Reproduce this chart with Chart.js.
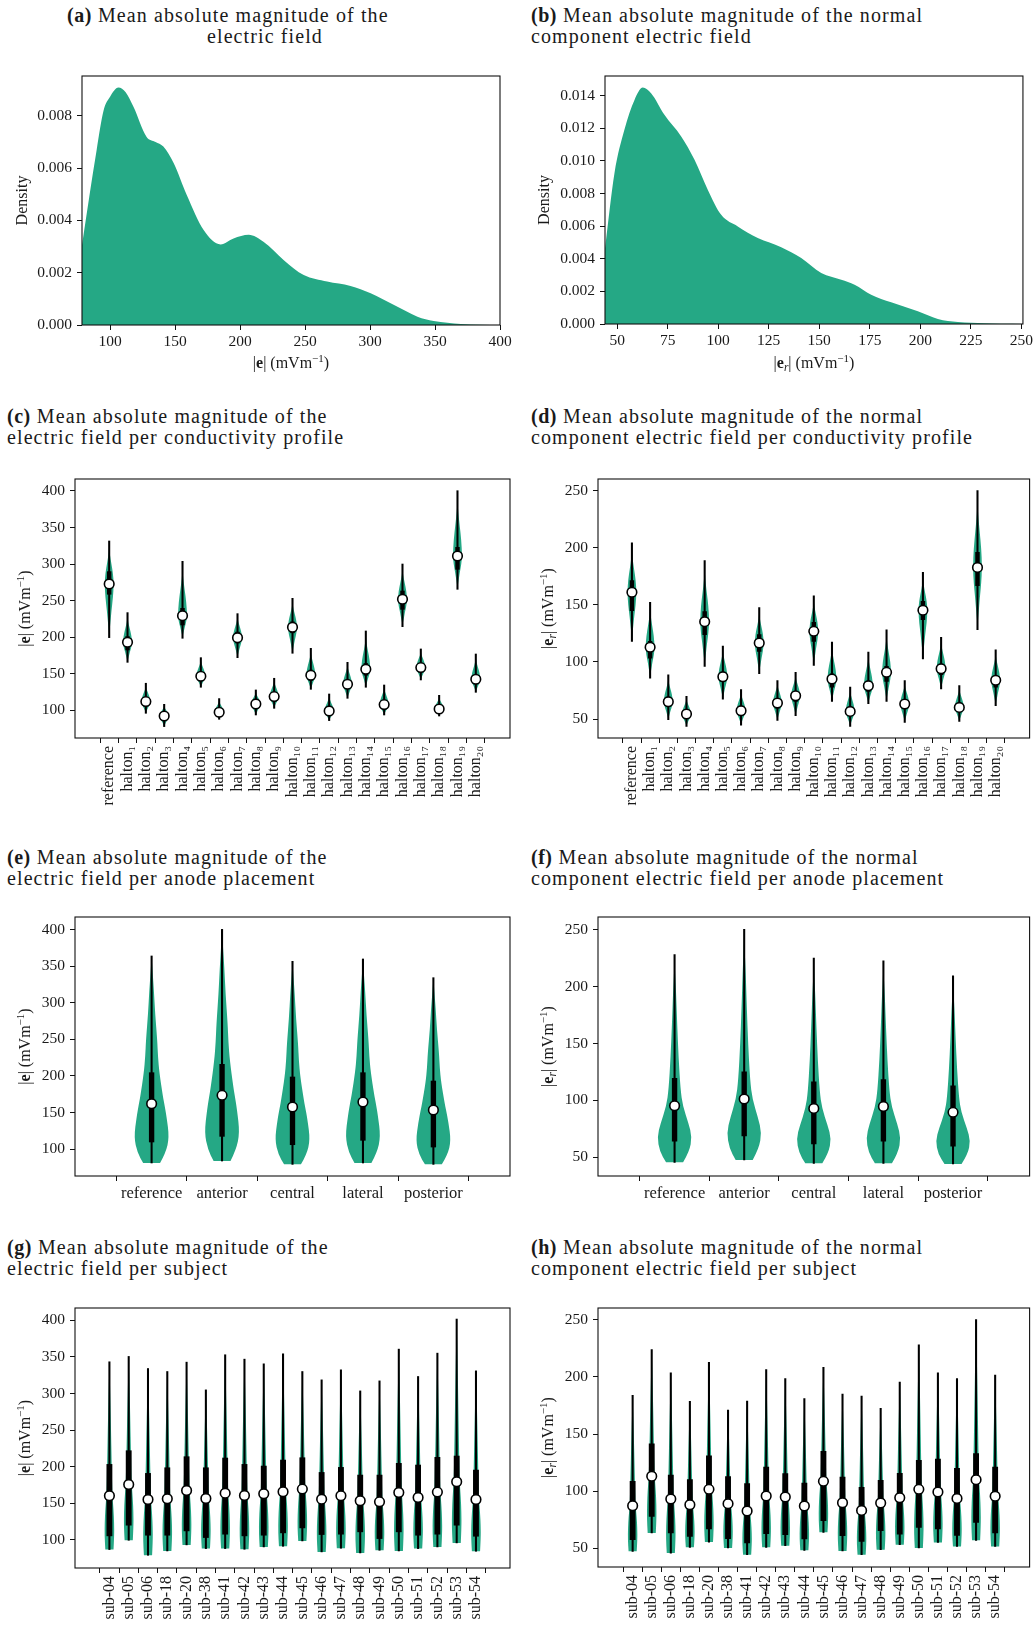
<!DOCTYPE html>
<html>
<head>
<meta charset="utf-8">
<title>Electric field magnitude</title>
<script src="https://cdn.jsdelivr.net/npm/chart.js@4.4.1/dist/chart.umd.min.js"></script>
<style>
  body { margin: 0; background: #fff; }
  #page { position: relative; width: 1036px; height: 1627px; overflow: hidden; }
  canvas { position: absolute; }
  .cap {
    position: absolute;
    font-family: "Liberation Serif", serif;
    font-size: 20px;
    letter-spacing: 1.1px;
    line-height: 20.6px;
    color: #1a1a1a;
    white-space: nowrap;
  }
  .cap b { letter-spacing: 0.5px; }
</style>
</head>
<body>
<div id="page">
  <div class="cap" style="left:67px;top:5.4px"><b>(a)</b> Mean absolute magnitude of the</div>
  <div class="cap" style="left:207px;top:26px">electric field</div>
  <div class="cap" style="left:531px;top:5.4px"><b>(b)</b> Mean absolute magnitude of the normal<br>component electric field</div>

  <div class="cap" style="left:7px;top:406.4px"><b>(c)</b> Mean absolute magnitude of the<br>electric field per conductivity profile</div>
  <div class="cap" style="left:531px;top:406.4px"><b>(d)</b> Mean absolute magnitude of the normal<br>component electric field per conductivity profile</div>

  <div class="cap" style="left:7px;top:847px"><b>(e)</b> Mean absolute magnitude of the<br>electric field per anode placement</div>
  <div class="cap" style="left:531px;top:847px"><b>(f)</b> Mean absolute magnitude of the normal<br>component electric field per anode placement</div>

  <div class="cap" style="left:7px;top:1237px"><b>(g)</b> Mean absolute magnitude of the<br>electric field per subject</div>
  <div class="cap" style="left:531px;top:1237px"><b>(h)</b> Mean absolute magnitude of the normal<br>component electric field per subject</div>

  <canvas id="chartA" width="518" height="330" style="left:0;top:50px"></canvas>
  <canvas id="chartB" width="518" height="330" style="left:518px;top:50px"></canvas>
  <canvas id="chartC" width="518" height="360" style="left:0;top:460px"></canvas>
  <canvas id="chartD" width="518" height="360" style="left:518px;top:460px"></canvas>
  <canvas id="chartE" width="518" height="310" style="left:0;top:900px"></canvas>
  <canvas id="chartF" width="518" height="310" style="left:518px;top:900px"></canvas>
  <canvas id="chartG" width="518" height="337" style="left:0;top:1290px"></canvas>
  <canvas id="chartH" width="518" height="337" style="left:518px;top:1290px"></canvas>
</div>

<script>
// ---- data ----

// (a) density of |e|
const densEx = [78.4, 84, 89.7, 95, 100, 106.4, 112, 118, 128, 135, 141, 149, 159, 172, 185, 195, 206.7, 218, 233.7, 249, 267, 285, 300.5, 318.5, 336.5, 349, 370, 385, 400];
const densEy = [0.00306, 0.0049, 0.0067, 0.0082, 0.00873, 0.00908, 0.0089, 0.00834, 0.0072, 0.0070, 0.00682, 0.00618, 0.00497, 0.00363, 0.00308, 0.00331, 0.00345, 0.00318, 0.00248, 0.00191, 0.00166, 0.00149, 0.00121, 0.00076, 0.00032, 0.00015, 0.00004, 0.00001, 0];

// (b) density of |e_r|
const densErx = [44, 48.7, 53.6, 58.6, 62.7, 66.8, 73.4, 81.7, 88.3, 94.9, 101.5, 109.7, 119.6, 131.2, 141.1, 151, 160.9, 167.5, 175.7, 185.6, 198.8, 208.7, 218.6, 231.8, 240, 250.8];
const densEry = [0.00465, 0.00925, 0.0119, 0.01373, 0.01449, 0.01414, 0.01282, 0.01149, 0.01006, 0.00822, 0.00669, 0.00598, 0.00527, 0.00471, 0.00404, 0.00312, 0.00271, 0.00241, 0.0018, 0.00133, 0.00078, 0.00031, 0.00012, 0.00004, 0.00001, 0];

const ticksEx = [100, 150, 200, 250, 300, 350, 400];
const ticksEy = [0, 0.002, 0.004, 0.006, 0.008];
const ticksErx = [50, 75, 100, 125, 150, 175, 200, 225, 250];
const ticksEry = [0, 0.002, 0.004, 0.006, 0.008, 0.010, 0.012, 0.014];
const ticksE = [100, 150, 200, 250, 300, 350, 400];
const ticksEr = [50, 100, 150, 200, 250];

// conductivity profiles
const profiles = ['reference', 'halton₁', 'halton₂', 'halton₃', 'halton₄', 'halton₅', 'halton₆', 'halton₇', 'halton₈', 'halton₉', 'halton₁₀',
  'halton₁₁', 'halton₁₂', 'halton₁₃', 'halton₁₄', 'halton₁₅', 'halton₁₆', 'halton₁₇', 'halton₁₈', 'halton₁₉', 'halton₂₀'];

// (c) |e| per profile: min, max, median, quartiles
const cMin = [199.4, 165.6, 95.9, 77.7, 198.5, 131.5, 87.7, 172, 93.6, 102.7, 178, 128.7, 85.9, 116.4, 131.5, 93.6, 214.4, 141.5, 92.2, 265.5, 124.6];
const cMax = [331.6, 233.6, 137, 108.2, 303.8, 172, 116, 232.2, 127.8, 143.8, 253.2, 184.8, 122.3, 165.6, 208.5, 134.6, 300.1, 183.9, 120.5, 400.4, 177];
const cMed = [272.8, 193, 111.9, 92.2, 229.5, 146.5, 97.3, 199.4, 108.7, 118.7, 213.5, 147.9, 99.1, 135.6, 156.1, 107.8, 251.8, 158.4, 101.8, 311.1, 142.4];
const cQ1 = [258.7, 182.5, 107, 88, 216.7, 141, 94, 192, 104, 114, 206, 141, 95, 130, 148, 103, 238.1, 153, 98, 292.8, 137];
const cQ3 = [289.7, 200.8, 117, 95, 239.5, 151, 101, 207, 112, 123, 221, 155, 103, 141, 164, 112, 263.2, 164, 105, 322.9, 148];

// (d) |e_r| per profile
const dMin = [118, 85.9, 49.4, 43.6, 96.1, 67.5, 44.7, 89.7, 48.8, 52.9, 97, 65.5, 43.6, 63.4, 65.5, 47.1, 102.6, 76.3, 48, 128.2, 61.7];
const dMax = [204.2, 152.2, 88.8, 69.9, 188.7, 113.9, 75.7, 147.5, 83.6, 90.9, 158, 117.4, 78, 108.7, 128.2, 83.6, 178.5, 121.5, 79.2, 250, 110.7];
const dMed = [161, 112.8, 65.2, 54.4, 135.3, 87.1, 57.3, 116.6, 64, 70.4, 126.8, 85, 56.7, 79.2, 90.9, 63.1, 145.2, 94.1, 60.2, 182.8, 83.9];
const dQ1 = [144.9, 103.4, 61.1, 50.9, 123.9, 83, 54.7, 109.3, 59.6, 65.5, 118, 78, 52.9, 74.2, 83, 59.6, 137, 88.8, 56.7, 166.8, 78];
const dQ3 = [171.2, 118, 68.4, 56.7, 144, 90.9, 59.6, 123.9, 67.5, 74.2, 134.7, 89.7, 59.6, 83, 96.1, 66.1, 153.1, 97.6, 63.1, 196, 88];

// anode placements
const anodes = ['reference', 'anterior', 'central', 'lateral', 'posterior'];

// (e) |e| per anode placement
const eMin = [80.9, 83.6, 79, 80.9, 79];
const eMax = [364, 400.4, 356.7, 359.9, 334.3];
const eMed = [162, 173.4, 157.4, 164.3, 153.3];
const eQ1 = [109.6, 117.3, 105.9, 111.9, 102.7];
const eQ3 = [204.4, 215.8, 198.5, 204.4, 193];

// (f) |e_r| per anode placement
const fMin = [45.6, 47.7, 44.7, 44.7, 44.2];
const fMax = [228.1, 250.3, 225.1, 222.5, 209.4];
const fMed = [95.3, 101.2, 93, 94.7, 89.5];
const fQ1 = [64.3, 68.7, 61.7, 64.3, 59.9];
const fQ3 = [119.3, 125.1, 116.4, 118.4, 112.9];

// subjects
const subjects = ['sub-04', 'sub-05', 'sub-06', 'sub-18', 'sub-20', 'sub-38', 'sub-41', 'sub-42', 'sub-43', 'sub-44',
  'sub-45', 'sub-46', 'sub-47', 'sub-48', 'sub-49', 'sub-50', 'sub-51', 'sub-52', 'sub-53', 'sub-54'];

// (g) |e| per subject
const gMin = [86.8, 99.5, 79, 84.9, 93.2, 88.1, 88.1, 87.2, 90.4, 91.3, 98.6, 83.6, 88.6, 82.2, 85.8, 84.9, 88.1, 90.4, 95.9, 84.5];
const gMax = [343.4, 350.7, 334.2, 330.1, 342.9, 305, 353, 347, 340.6, 354.3, 330.1, 318.7, 332.4, 303.6, 317.3, 360.7, 323.3, 355.2, 401.8, 331];
const gMed = [160.3, 175.8, 155.2, 156.2, 167.6, 156.6, 163.9, 160.7, 163, 165.8, 169.4, 155.7, 160.3, 153.4, 152, 164.8, 158, 165.3, 179.4, 155.2];
const gQ1 = [105.5, 120.1, 106.4, 106.4, 112.3, 103.2, 107.8, 105.5, 106.4, 109.6, 116.4, 107.3, 107.8, 111, 101.8, 111, 106.4, 107.8, 120.1, 105];
const gQ3 = [203.2, 221.9, 190.9, 198.6, 213.7, 198.6, 211.9, 203.2, 200.9, 209.1, 212.3, 192.2, 199.1, 188.6, 188.6, 204.6, 202.3, 212.8, 214.6, 195.4];

// (h) |e_r| per subject
const hMin = [47.4, 63.4, 45.9, 50.9, 55.5, 50.3, 44.5, 50.9, 52.3, 48.3, 64, 47.7, 44.5, 48.8, 53.2, 50.3, 55.2, 51.7, 57, 51.7];
const hMax = [183.8, 223.8, 203.4, 178.6, 212.7, 171, 178.9, 206.3, 198.4, 180.9, 208.3, 185, 183.2, 172.5, 195.5, 228.1, 203.4, 198.4, 250, 201.6];
const hMed = [87.3, 113, 93.1, 88.2, 101.6, 89.1, 82.7, 95.8, 94.9, 87, 108.6, 89.9, 83.2, 89.7, 94.3, 101.6, 99.3, 93.7, 110.1, 95.5];
const hQ1 = [57.6, 78, 63.4, 60.5, 66.9, 58.5, 54.7, 62.8, 62, 58.2, 74.2, 61.1, 56.1, 65.5, 62.5, 68.4, 66.9, 61.4, 72.7, 63.4];
const hQ3 = [108.6, 141.5, 114.1, 110.1, 131, 112.7, 106.6, 121.1, 115.3, 107.1, 134.8, 112.4, 103.4, 109.5, 115.6, 127, 128.1, 120, 132.8, 121.1];

// violin outlines: relative half widths, min->median and median->max
const spindleLowT = [0, 0.1, 0.27, 0.5, 0.75, 1];
const spindleLowW = [0, 0.05, 0.25, 0.5, 0.83, 1];
const spindleUpT = [0, 0.25, 0.48, 0.7, 0.85, 1];
const spindleUpW = [1, 0.83, 0.46, 0.12, 0.03, 0];

const anodeELowT = [0, 0.17, 0.43, 0.78, 1];
const anodeELowW = [0.48, 0.8, 1, 0.85, 0.72];
const anodeEUpT = [0, 0.05, 0.21, 0.32, 0.43, 0.61, 0.77, 0.9, 1];
const anodeEUpW = [0.72, 0.64, 0.44, 0.36, 0.32, 0.2, 0.13, 0.05, 0];

const anodeFLowT = [0, 0.19, 0.45, 0.69, 1];
const anodeFLowW = [0.49, 0.85, 1, 0.8, 0.47];
const anodeFUpT = [0, 0.11, 0.32, 0.54, 0.77, 0.87, 1];
const anodeFUpW = [0.47, 0.34, 0.23, 0.15, 0.08, 0.03, 0];

const subjLowT = [0, 0.25, 0.5, 0.75, 1];
const subjLowW = [0.85, 1, 0.98, 0.85, 0.62];
const subjUpT = [0, 0.25, 0.5, 0.75, 1];
const subjUpW = [0.62, 0.46, 0.33, 0.18, 0];

// ---- drawing ----

const GREEN = '#25a885';
const FONT = '"Liberation Serif", serif';
Chart.defaults.font.family = FONT;
Chart.defaults.color = '#1a1a1a';

// axis title pieces: [text, style]
const STYLES = {
  r: { font: `16px ${FONT}`, rise: 0 },
  b: { font: `bold 16px ${FONT}`, rise: 0 },
  sup: { font: `11px ${FONT}`, rise: 6.5 },
  sub: { font: `italic 11.5px ${FONT}`, rise: -3 },
};
const labelE = [['|', 'r'], ['e', 'b'], ['| (mVm', 'r'], ['−1', 'sup'], [')', 'r']];
const labelEr = [['|', 'r'], ['e', 'b'], ['r', 'sub'], ['| (mVm', 'r'], ['−1', 'sup'], [')', 'r']];
const labelDensity = [['Density', 'r']];

function drawPieces(ctx, pieces, cx, base) {
  let total = 0;
  pieces.forEach(([t, s]) => { ctx.font = STYLES[s].font; total += ctx.measureText(t).width; });
  let x = cx - total / 2;
  pieces.forEach(([t, s]) => {
    ctx.font = STYLES[s].font;
    ctx.fillText(t, x, base - STYLES[s].rise);
    x += ctx.measureText(t).width;
  });
}

// frame + axis titles
const frameAndTitles = {
  id: 'frameAndTitles',
  afterDraw(chart, args, opts) {
    const { ctx, chartArea: a } = chart;
    ctx.save();
    ctx.strokeStyle = '#111';
    ctx.lineWidth = 1.1;
    ctx.strokeRect(a.left, a.top, a.right - a.left, a.bottom - a.top);
    ctx.fillStyle = '#1a1a1a';
    ctx.textBaseline = 'alphabetic';
    if (opts.xTitle) drawPieces(ctx, opts.xTitle, (a.left + a.right) / 2, a.bottom + opts.xGap);
    if (opts.yTitle) {
      ctx.translate(a.left - opts.yGap, (a.top + a.bottom) / 2);
      ctx.rotate(-Math.PI / 2);
      drawPieces(ctx, opts.yTitle, 0, 0);
    }
    ctx.restore();
  }
};

function smoothSide(ctx, pts, cx, dir) {
  ctx.lineTo(cx + dir * pts[0][1], pts[0][0]);
  for (let j = 1; j < pts.length - 1; j++) {
    const mw = (pts[j][1] + pts[j + 1][1]) / 2;
    const my = (pts[j][0] + pts[j + 1][0]) / 2;
    ctx.quadraticCurveTo(cx + dir * pts[j][1], pts[j][0], cx + dir * mw, my);
  }
  const last = pts[pts.length - 1];
  ctx.lineTo(cx + dir * last[1], last[0]);
}

// violin bodies, drawn under whiskers, boxes and medians
const violinBodies = {
  id: 'violinBodies',
  beforeDatasetsDraw(chart, args, opts) {
    if (!opts.lo) return;
    const { ctx, chartArea: a, scales: { x, y } } = chart;
    const s = opts.shape;
    ctx.save();
    ctx.beginPath();
    ctx.rect(a.left, a.top, a.right - a.left, a.bottom - a.top);
    ctx.clip();
    ctx.fillStyle = GREEN;
    opts.lo.forEach((lo, i) => {
      const med = opts.med[i], hi = opts.hi[i];
      const knots = s.lowT.map((t, k) => [lo + t * (med - lo), s.lowW[k]]);
      s.upT.forEach((t, k) => { if (k > 0) knots.push([med + t * (hi - med), s.upW[k]]); });
      const cx = x.getPixelForValue(i);
      const half = x.getPixelForValue(i + 0.25) - cx;
      const pts = knots.map(([v, w]) => [y.getPixelForValue(v), w * half]);
      ctx.beginPath();
      ctx.moveTo(cx - pts[0][1], pts[0][0]);
      smoothSide(ctx, pts, cx, 1);
      smoothSide(ctx, pts.slice().reverse(), cx, -1);
      ctx.closePath();
      ctx.fill();
    });
    ctx.restore();
  }
};

function baseScale(ticks, fmt) {
  return {
    border: { display: false },
    grid: { drawOnChartArea: false, drawTicks: true, tickLength: 5, color: '#111', lineWidth: 1 },
    ticks: { color: '#1a1a1a', font: { size: 15.5 }, padding: 3, autoSkip: false, callback: fmt },
    afterBuildTicks: (scale) => { scale.ticks = ticks.map(v => ({ value: v })); },
  };
}

function densityChart(id, xs, ys, xMin, xMax, yMax, xTicks, yTicks, area, xTitle, xGap, yGap) {
  const cv = document.getElementById(id);
  const xs_ = baseScale(xTicks, v => String(v));
  const ys_ = baseScale(yTicks, v => v.toFixed(3));
  new Chart(cv, {
    type: 'line',
    data: {
      datasets: [{
        data: xs.map((x, i) => ({ x, y: ys[i] })),
        fill: 'origin',
        backgroundColor: GREEN,
        borderColor: GREEN,
        borderWidth: 0,
        pointRadius: 0,
        cubicInterpolationMode: 'monotone',
      }]
    },
    options: {
      responsive: false,
      animation: false,
      layout: { padding: { top: area.t, right: cv.width - area.r, left: 0, bottom: 0 } },
      scales: {
        x: Object.assign(xs_, { type: 'linear', min: xMin, max: xMax,
          afterFit: (s) => { s.height = cv.height - area.b; } }),
        y: Object.assign(ys_, { min: 0, max: yMax, ticks: Object.assign(ys_.ticks, { padding: 5 }),
          afterFit: (s) => { s.width = area.l; } }),
      },
      plugins: {
        legend: { display: false },
        tooltip: { enabled: false },
        frameAndTitles: { xTitle, xGap, yTitle: labelDensity, yGap },
      }
    },
    plugins: [frameAndTitles]
  });
}

function violinChart(id, p) {
  const cv = document.getElementById(id);
  const idx = p.cats.map((c, i) => i);
  const xs_ = baseScale(idx, v => p.cats[Math.round(v)]);
  const ys_ = baseScale(p.yTicks, v => String(v));
  new Chart(cv, {
    type: 'bar',
    data: {
      datasets: [
        {
          type: 'scatter',
          data: p.med.map((v, i) => ({ x: i, y: v })),
          pointRadius: 4.8,
          pointBackgroundColor: '#fff',
          pointBorderColor: '#000',
          pointBorderWidth: 1.6,
          order: 0,
        },
        {
          data: p.q1.map((v, i) => ({ x: i, y: [v, p.q3[i]] })),
          backgroundColor: '#000',
          barThickness: p.boxW,
          grouped: false,
          order: 1,
        },
        {
          data: p.lo.map((v, i) => ({ x: i, y: [v, p.hi[i]] })),
          backgroundColor: '#000',
          barThickness: 1.4,
          grouped: false,
          order: 2,
        },
      ]
    },
    options: {
      responsive: false,
      animation: false,
      layout: { padding: { top: p.area.t, right: cv.width - p.area.r, left: 0, bottom: 0 } },
      scales: {
        x: Object.assign(xs_, { type: 'linear', min: p.xMin, max: p.xMax,
          ticks: Object.assign(xs_.ticks, { minRotation: p.rot, maxRotation: p.rot, font: { size: p.catSize } }),
          afterFit: (s) => { s.height = cv.height - p.area.b; } }),
        y: Object.assign(ys_, { min: p.yMin, max: p.yMax, ticks: Object.assign(ys_.ticks, { padding: 5 }),
          afterFit: (s) => { s.width = p.area.l; } }),
      },
      plugins: {
        legend: { display: false },
        tooltip: { enabled: false },
        violinBodies: { lo: p.lo, hi: p.hi, med: p.med, shape: p.shape },
        frameAndTitles: { yTitle: p.yTitle, yGap: 45 },
      }
    },
    plugins: [violinBodies, frameAndTitles]
  });
}

const spindle = { lowT: spindleLowT, lowW: spindleLowW, upT: spindleUpT, upW: spindleUpW };
const anodeE = { lowT: anodeELowT, lowW: anodeELowW, upT: anodeEUpT, upW: anodeEUpW };
const anodeF = { lowT: anodeFLowT, lowW: anodeFLowW, upT: anodeFUpT, upW: anodeFUpW };
const subj = { lowT: subjLowT, lowW: subjLowW, upT: subjUpT, upW: subjUpW };

densityChart('chartA', densEx, densEy, 78.4, 400, 0.00952, ticksEx, ticksEy,
  { l: 82, t: 26, r: 500, b: 275 }, labelE, 43, 55);
densityChart('chartB', densErx, densEry, 44, 250.8, 0.0152, ticksErx, ticksEry,
  { l: 87, t: 26, r: 505, b: 274 }, labelEr, 44, 56);

violinChart('chartC', { cats: profiles, lo: cMin, hi: cMax, med: cMed, q1: cQ1, q3: cQ3, shape: spindle,
  xMin: -1.3, xMax: 21.3, yMin: 62.1, yMax: 416.4, yTicks: ticksE, rot: 90, boxW: 3.8, catSize: 16,
  area: { l: 75, t: 19, r: 510, b: 278 }, yTitle: labelE });
violinChart('chartD', { cats: profiles, lo: dMin, hi: dMax, med: dMed, q1: dQ1, q3: dQ3, shape: spindle,
  xMin: -1.3, xMax: 21.3, yMin: 33.4, yMax: 260.2, yTicks: ticksEr, rot: 90, boxW: 3.8, catSize: 16,
  area: { l: 80, t: 19, r: 515, b: 278 }, yTitle: labelEr });

violinChart('chartE', { cats: anodes, lo: eMin, hi: eMax, med: eMed, q1: eQ1, q3: eQ3, shape: anodeE,
  xMin: -0.47, xMax: 4.47, yMin: 63.1, yMax: 417.3, yTicks: ticksE, rot: 0, boxW: 4.7, catSize: 16.5,
  area: { l: 75, t: 17, r: 510, b: 276 }, yTitle: labelE });
violinChart('chartF', { cats: anodes, lo: fMin, hi: fMax, med: fMed, q1: fQ1, q3: fQ3, shape: anodeF,
  xMin: -0.48, xMax: 4.48, yMin: 33.6, yMax: 261.1, yTicks: ticksEr, rot: 0, boxW: 4.7, catSize: 16.5,
  area: { l: 80, t: 17, r: 515, b: 276 }, yTitle: labelEr });

violinChart('chartG', { cats: subjects, lo: gMin, hi: gMax, med: gMed, q1: gQ1, q3: gQ3, shape: subj,
  xMin: -1.22, xMax: 20.2, yMin: 61.6, yMax: 416.9, yTicks: ticksE, rot: 90, boxW: 5.2, catSize: 16,
  area: { l: 75, t: 18, r: 510, b: 278 }, yTitle: labelE });
violinChart('chartH', { cats: subjects, lo: hMin, hi: hMax, med: hMed, q1: hQ1, q3: hQ3, shape: subj,
  xMin: -1.25, xMax: 20.24, yMin: 33.7, yMax: 260.2, yTicks: ticksEr, rot: 90, boxW: 5.2, catSize: 16,
  area: { l: 80, t: 18, r: 515, b: 277 }, yTitle: labelEr });
</script>
</body>
</html>
